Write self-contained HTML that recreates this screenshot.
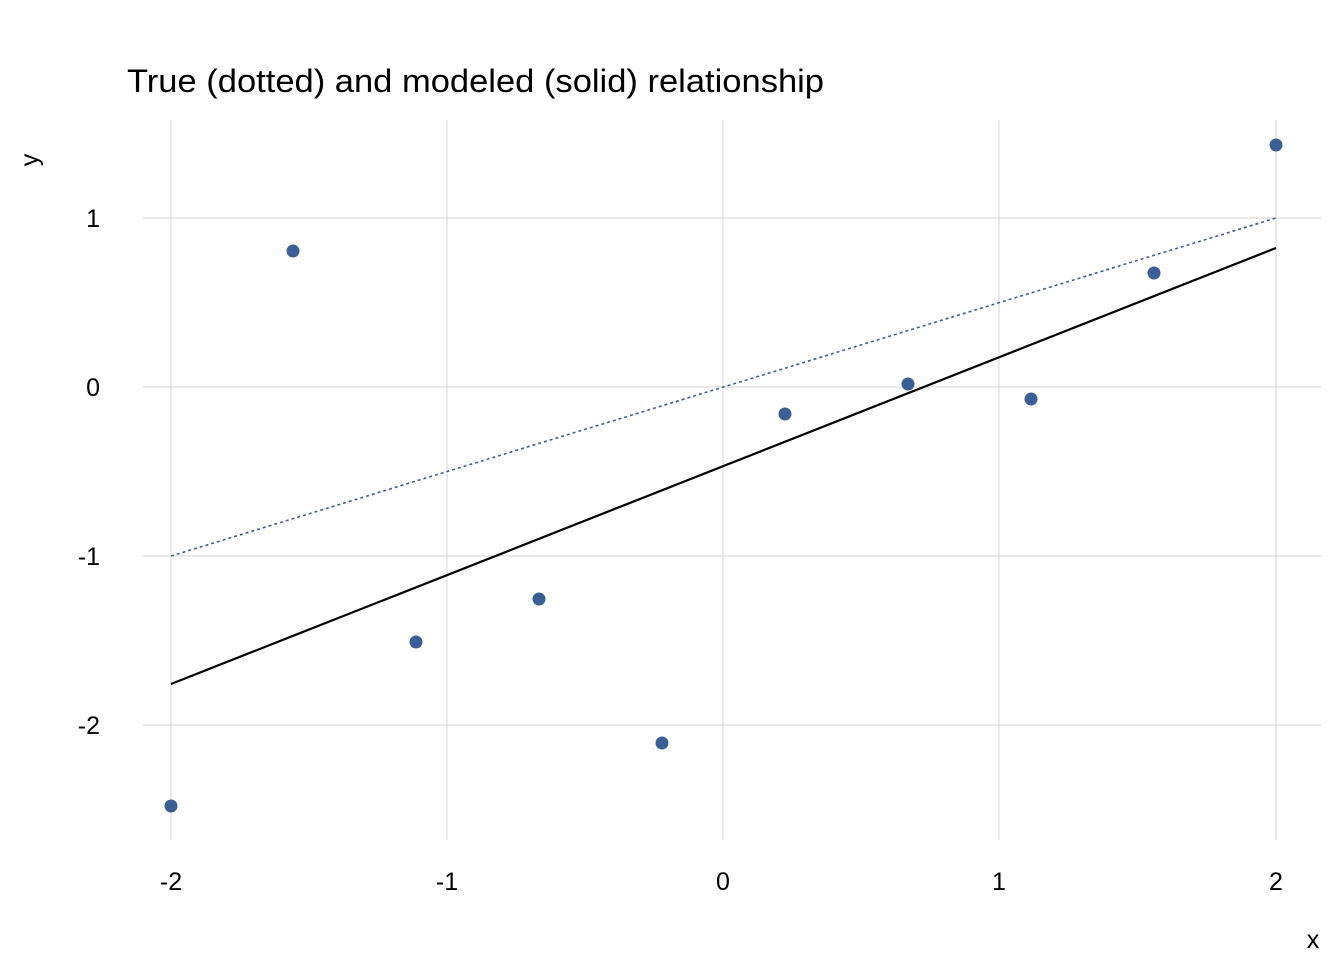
<!DOCTYPE html>
<html><head><style>body{margin:0;background:#fff}</style></head><body>
<svg width="1344" height="960" xmlns="http://www.w3.org/2000/svg" font-family="Liberation Sans, sans-serif">
<rect width="1344" height="960" fill="#fff"/>
<g stroke="#d6d6d6" stroke-width="1">
<line x1="171" y1="120" x2="171" y2="840"/><line x1="447" y1="120" x2="447" y2="840"/>
<line x1="723" y1="120" x2="723" y2="840"/><line x1="999" y1="120" x2="999" y2="840"/>
<line x1="1276" y1="120" x2="1276" y2="840"/>
<line x1="143" y1="218" x2="1321" y2="218"/><line x1="143" y1="387" x2="1321" y2="387"/>
<line x1="143" y1="556" x2="1321" y2="556"/><line x1="143" y1="725" x2="1321" y2="725"/>
</g>
<line x1="171" y1="556" x2="1276" y2="218" stroke="#3b5f95" stroke-width="1.6" stroke-dasharray="3,3"/>
<line x1="171" y1="684" x2="1276" y2="248" stroke="#000" stroke-width="2.2"/>
<g fill="#3b5f95">
<circle cx="171" cy="806" r="6.5"/><circle cx="293" cy="251" r="6.5"/><circle cx="416" cy="642" r="6.5"/>
<circle cx="539" cy="599" r="6.5"/><circle cx="662" cy="743" r="6.5"/><circle cx="785" cy="414" r="6.5"/>
<circle cx="908" cy="384" r="6.5"/><circle cx="1031" cy="399" r="6.5"/><circle cx="1154" cy="273" r="6.5"/>
<circle cx="1276" cy="145" r="6.5"/>
</g>
<text x="127" y="92" font-size="32" textLength="697" lengthAdjust="spacingAndGlyphs">True (dotted) and modeled (solid) relationship</text>
<g font-size="25" text-anchor="middle">
<text x="171" y="890">-2</text><text x="447" y="890">-1</text><text x="723" y="890">0</text>
<text x="999" y="890">1</text><text x="1276" y="890">2</text>
<text x="1313" y="948">x</text>
</g>
<g font-size="25" text-anchor="end">
<text x="100" y="227">1</text><text x="100" y="396">0</text><text x="100" y="565">-1</text><text x="100" y="734">-2</text>
</g>
<text x="0" y="0" font-size="25" text-anchor="middle" transform="translate(38,160) rotate(-90)">y</text>
</svg>
</body></html>
